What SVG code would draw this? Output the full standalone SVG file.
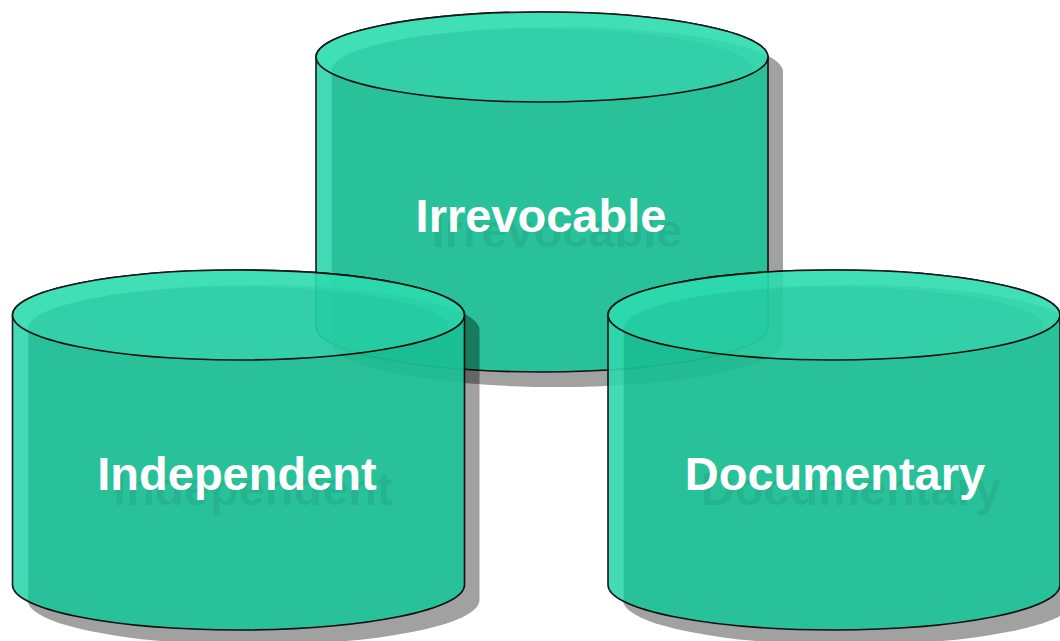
<svg xmlns="http://www.w3.org/2000/svg" xmlns:xlink="http://www.w3.org/1999/xlink" width="1060" height="641" viewBox="0 0 1060 641">
<style>
.body{fill:#1cc599}
.strip{fill:#30d7ad}
.topo{fill:#2cdcaf}
.topi{fill:#27d5a9}
.ln{fill:none;stroke:#000;stroke-width:1.6}
.sh{fill:#000;fill-opacity:0.37}
.cyl{opacity:0.9}
.lbl{font-family:"Liberation Sans",Arial,sans-serif;font-weight:bold;font-size:47px;text-anchor:middle}
.lbl .s{fill:#000;fill-opacity:0.07}
.lbl .t{fill:#fff}
</style>
<defs>
<path id="outline" d="M-226,0 V270 A226,45 0 0 0 226,270 V0 A226,45 0 0 0 -226,0 Z"/>
<clipPath id="topclip"><ellipse cx="0" cy="0" rx="226" ry="45"/></clipPath>
<g id="cylinder">
<use xlink:href="#outline" class="body"/>
<path class="strip" d="M-226,0 V270 A226,45 0 0 0 -210,286.6 V0 Z"/>
<use xlink:href="#outline" class="ln"/>
<ellipse class="topo" cx="0" cy="0" rx="226" ry="45"/>
<ellipse class="topi" cx="0" cy="12" rx="210" ry="40" clip-path="url(#topclip)"/>
<ellipse class="ln" cx="0" cy="0" rx="226" ry="45"/>
</g>
</defs>
<g id="node-irrevocable">
<use xlink:href="#outline" class="sh" transform="translate(557,72)"/>
<g class="cyl" transform="translate(542,57)"><use xlink:href="#cylinder"/></g>
<text class="lbl" x="557" y="247"><tspan class="s" x="557" y="247">Irrevocable</tspan></text>
<text class="lbl" x="541" y="232"><tspan class="t" x="541" y="232">Irrevocable</tspan></text>
</g>
<g id="node-independent">
<use xlink:href="#outline" class="sh" transform="translate(253.5,330)"/>
<g class="cyl" transform="translate(238.5,315)"><use xlink:href="#cylinder"/></g>
<text class="lbl" x="253" y="505"><tspan class="s" x="253" y="505">Independent</tspan></text>
<text class="lbl" x="237" y="490"><tspan class="t" x="237" y="490">Independent</tspan></text>
</g>
<g id="node-documentary">
<use xlink:href="#outline" class="sh" transform="translate(849,330)"/>
<g class="cyl" transform="translate(834,315)"><use xlink:href="#cylinder"/></g>
<text class="lbl" x="851" y="505"><tspan class="s" x="851" y="505">Documentary</tspan></text>
<text class="lbl" x="835" y="490"><tspan class="t" x="835" y="490">Documentary</tspan></text>
</g>
<g id="connectors"/>
</svg>
